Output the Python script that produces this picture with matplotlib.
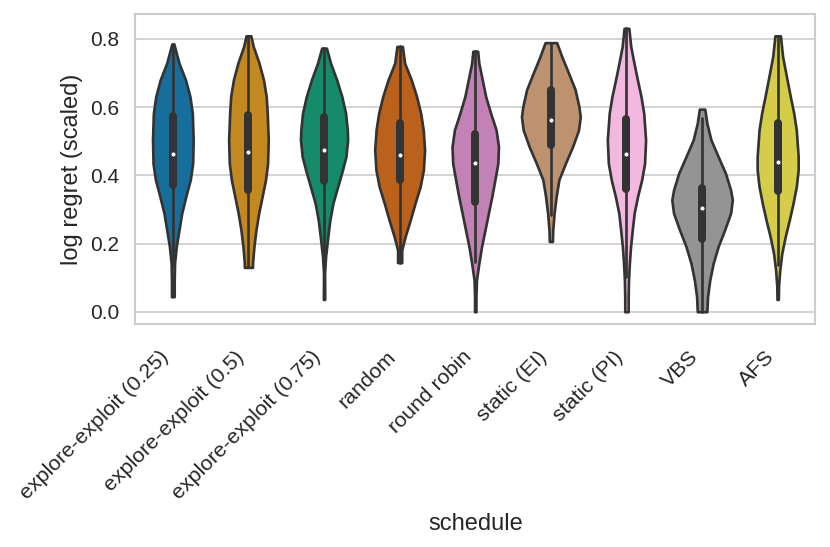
import numpy as np
import matplotlib
matplotlib.use("Agg")
import matplotlib.pyplot as plt
import seaborn as sns

categories = ["explore-exploit (0.25)", "explore-exploit (0.5)", "explore-exploit (0.75)",
              "random", "round robin", "static (EI)", "static (PI)", "VBS", "AFS"]

# density profiles (support values and relative density)
ee025_y = [0.785, 0.729, 0.680, 0.631, 0.582, 0.504, 0.435, 0.387, 0.338, 0.289, 0.240, 0.191, 0.142, 0.093, 0.044]
ee025_d = [3, 18, 37, 50, 57, 59.5, 58, 51, 38, 26, 18, 10, 5, 4, 4]
ee05_y = [0.809, 0.778, 0.729, 0.680, 0.631, 0.582, 0.504, 0.435, 0.387, 0.338, 0.289, 0.240, 0.191, 0.142, 0.130]
ee05_d = [7, 14, 31, 44, 52, 55, 58, 56, 50, 40, 30, 22, 16, 12, 12]
ee075_y = [0.773, 0.729, 0.680, 0.631, 0.582, 0.533, 0.504, 0.455, 0.416, 0.367, 0.318, 0.269, 0.220, 0.162, 0.113, 0.036]
ee075_d = [7, 19, 37, 52, 63, 68, 69, 64, 54, 40, 26, 17, 11, 4.5, 1.5, 2]
random_y = [0.778, 0.729, 0.680, 0.631, 0.582, 0.533, 0.475, 0.416, 0.367, 0.318, 0.269, 0.220, 0.181, 0.144]
random_d = [8, 14.5, 34, 49.5, 61.5, 69, 73, 69.5, 60, 45, 31, 16, 6, 6]
rr_y = [0.764, 0.729, 0.680, 0.631, 0.582, 0.533, 0.484, 0.435, 0.387, 0.338, 0.289, 0.240, 0.191, 0.142, 0.093, 0.044, 0.000]
rr_d = [7, 10.5, 20.5, 30.5, 45, 61, 68, 66, 57.5, 48.5, 38.5, 28.5, 18.5, 10.5, 3.5, 2, 2]
ei_y = [0.789, 0.748, 0.699, 0.651, 0.602, 0.572, 0.533, 0.484, 0.435, 0.387, 0.338, 0.289, 0.240, 0.206]
ei_d = [17, 32, 52, 71, 82, 86, 81, 63.5, 42.5, 23.5, 15.5, 9.5, 5.5, 4.5]
pi_y = [0.831, 0.778, 0.729, 0.680, 0.631, 0.582, 0.504, 0.435, 0.387, 0.338, 0.289, 0.240, 0.191, 0.142, 0.093, 0.044, 0.000]
pi_d = [7, 12.5, 22, 32, 42.5, 50.5, 56, 53, 44.5, 32.5, 22.5, 17, 12, 8.5, 6, 5, 5]
vbs_y = [0.594, 0.553, 0.504, 0.455, 0.406, 0.357, 0.328, 0.289, 0.240, 0.191, 0.142, 0.093, 0.044, 0.000]
vbs_d = [8, 14, 26, 47, 68.5, 83.5, 88.5, 83.5, 66, 47, 32.5, 22.5, 16, 14]
afs_y = [0.809, 0.748, 0.680, 0.631, 0.582, 0.533, 0.455, 0.416, 0.367, 0.318, 0.269, 0.220, 0.171, 0.122, 0.074, 0.036]
afs_d = [8, 14.5, 27.5, 37, 47, 54.5, 60, 60, 54.5, 45, 34, 22, 12, 6, 2.5, 2]

# box statistics
q1 = [0.371, 0.356, 0.384, 0.386, 0.323, 0.489, 0.361, 0.212, 0.354]
median = [0.463, 0.469, 0.474, 0.459, 0.437, 0.561, 0.463, 0.303, 0.440]
q3 = [0.575, 0.577, 0.570, 0.553, 0.522, 0.649, 0.565, 0.363, 0.553]
whisk_lo = [0.137, 0.130, 0.162, 0.144, 0.147, 0.284, 0.103, 0.000, 0.137]
whisk_hi = [0.785, 0.809, 0.773, 0.778, 0.764, 0.789, 0.831, 0.567, 0.809]

supports = [ee025_y, ee05_y, ee075_y, random_y, rr_y, ei_y, pi_y, vbs_y, afs_y]
densities = [ee025_d, ee05_d, ee075_d, random_d, rr_d, ei_d, pi_d, vbs_d, afs_d]

sns.set_theme(style="whitegrid", context="notebook")
plt.rcParams["font.family"] = ["Liberation Sans", "DejaVu Sans"]

fig = plt.figure(figsize=(830 / 120, 547 / 120), dpi=120)
ax = fig.add_axes([0.1627, 0.4077, 0.9825 - 0.1627, 0.9744 - 0.4077])

colors = sns.color_palette("colorblind", len(categories), desat=0.75)
gray = "#333333"

positions = np.arange(len(categories))
global_max = max(max(d) for d in densities)
vpstats = []
widths = []
for ys, ds, med in zip(supports, densities, median):
    ys = np.array(ys)[::-1]
    ds = np.array(ds, dtype=float)[::-1]
    vpstats.append(dict(coords=ys, vals=ds, mean=med, median=med, min=ys.min(), max=ys.max()))
    widths.append(0.8 * ds.max() / global_max)

parts = ax.violin(vpstats, positions=positions, widths=widths,
                  showmeans=False, showextrema=False, showmedians=False)
for body, c in zip(parts["bodies"], colors):
    body.set_facecolor(c)
    body.set_edgecolor(gray)
    body.set_linewidth(1.6)
    body.set_alpha(1)
    body.set_zorder(2)

for i in range(len(categories)):
    ax.plot([positions[i], positions[i]], [whisk_lo[i], whisk_hi[i]], color=gray, lw=1.6, zorder=3)
    ax.plot([positions[i], positions[i]], [q1[i], q3[i]], color=gray, lw=4.8, zorder=3)
    ax.scatter([positions[i]], [median[i]], s=9, color="white", edgecolor=gray, linewidth=0.5, zorder=4)

ax.set_xlim(-0.5, len(categories) - 0.5)
ax.set_ylim(-0.036, 0.873)
ax.set_yticks([0.0, 0.2, 0.4, 0.6, 0.8])
ax.set_xticks(positions)
ax.set_xticklabels(categories, rotation=45, ha="right")
ax.tick_params(axis="y", labelsize=12.5)
ax.tick_params(axis="x", labelsize=12.8, pad=8)
ax.xaxis.grid(False)
ax.set_xlabel("schedule", fontsize=14.2, labelpad=6)
ax.set_ylabel("log regret (scaled)", fontsize=14.2)

fig.savefig("out.png", dpi=120)
